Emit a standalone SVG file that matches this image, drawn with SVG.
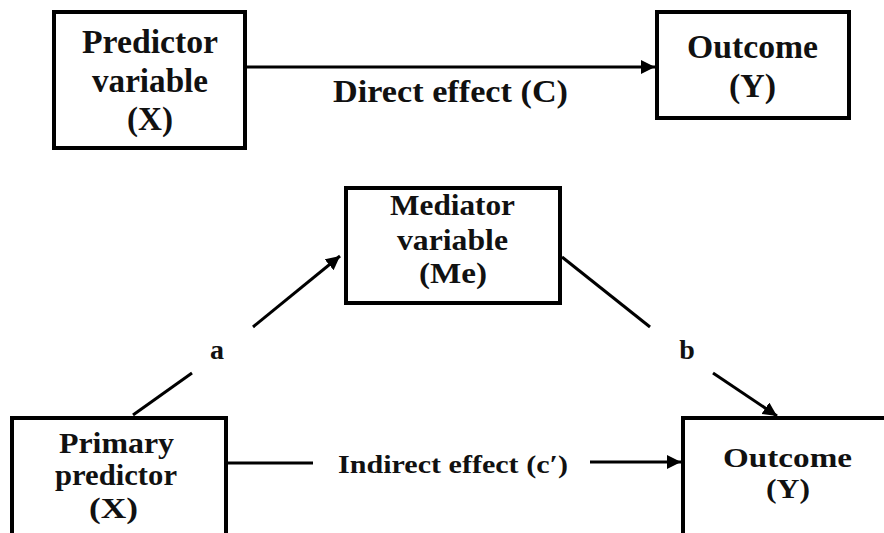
<svg xmlns="http://www.w3.org/2000/svg" width="884" height="533" viewBox="0 0 884 533">
<style>
.box{fill:#fff;stroke:#000;stroke-width:4}
.t{font-family:"Liberation Serif","Times New Roman",serif;font-weight:bold;fill:#111;text-anchor:middle}
.ln{stroke:#000;stroke-width:3;fill:none}
</style>
<defs>
<marker id="ah" markerUnits="userSpaceOnUse" markerWidth="16" markerHeight="16" refX="14" refY="7" orient="auto">
<path d="M0,0 L14,7 L0,14 Z" fill="#000"/>
</marker>
</defs>
<rect width="884" height="533" fill="#fff"/>
<g id="connectors">
<line class="ln" x1="247" y1="67" x2="655" y2="67" marker-end="url(#ah)"/>
<text class="t" x="450.5" y="102" font-size="32" textLength="235" lengthAdjust="spacingAndGlyphs">Direct effect (C)</text>
<line class="ln" x1="133" y1="415" x2="192" y2="373"/>
<line class="ln" x1="253" y1="327" x2="340" y2="256" marker-end="url(#ah)"/>
<text class="t" x="217" y="359" font-size="28">a</text>
<line class="ln" x1="562" y1="257" x2="650" y2="327"/>
<line class="ln" x1="713" y1="373" x2="777" y2="416" marker-end="url(#ah)"/>
<text class="t" x="687" y="359" font-size="28">b</text>
<line class="ln" x1="228" y1="463" x2="313" y2="463"/>
<line class="ln" x1="590" y1="462" x2="681" y2="462" marker-end="url(#ah)"/>
<text class="t" x="453" y="473" font-size="26" textLength="230" lengthAdjust="spacingAndGlyphs">Indirect effect (c′)</text>
</g>
<g id="predictor">
<rect class="box" x="54" y="12" width="191" height="136"/>
<text class="t" x="150" y="53" font-size="33" textLength="136" lengthAdjust="spacingAndGlyphs">Predictor</text>
<text class="t" x="150" y="92" font-size="33" textLength="116" lengthAdjust="spacingAndGlyphs">variable</text>
<text class="t" x="150" y="130" font-size="33" textLength="46" lengthAdjust="spacingAndGlyphs">(X)</text>
</g>
<g id="outcome-top">
<rect class="box" x="657" y="12" width="192" height="106"/>
<text class="t" x="752.5" y="58" font-size="33" textLength="131" lengthAdjust="spacingAndGlyphs">Outcome</text>
<text class="t" x="752.5" y="97" font-size="33" textLength="47" lengthAdjust="spacingAndGlyphs">(Y)</text>
</g>
<g id="mediator">
<rect class="box" x="346" y="188" width="214" height="115"/>
<text class="t" x="452.5" y="215" font-size="29" textLength="125" lengthAdjust="spacingAndGlyphs">Mediator</text>
<text class="t" x="452.5" y="250" font-size="29" textLength="111" lengthAdjust="spacingAndGlyphs">variable</text>
<text class="t" x="453" y="283" font-size="29" textLength="68" lengthAdjust="spacingAndGlyphs">(Me)</text>
</g>
<g id="primary">
<rect class="box" x="12" y="418" width="214" height="130"/>
<text class="t" x="116.5" y="453" font-size="30" textLength="115" lengthAdjust="spacingAndGlyphs">Primary</text>
<text class="t" x="116" y="485" font-size="30" textLength="122" lengthAdjust="spacingAndGlyphs">predictor</text>
<text class="t" x="113.5" y="518" font-size="30" textLength="49" lengthAdjust="spacingAndGlyphs">(X)</text>
</g>
<g id="outcome-bottom">
<rect class="box" x="683" y="418" width="220" height="130"/>
<text class="t" x="787.5" y="467" font-size="28" textLength="129" lengthAdjust="spacingAndGlyphs">Outcome</text>
<text class="t" x="788" y="498" font-size="28" textLength="44" lengthAdjust="spacingAndGlyphs">(Y)</text>
</g>
</svg>
